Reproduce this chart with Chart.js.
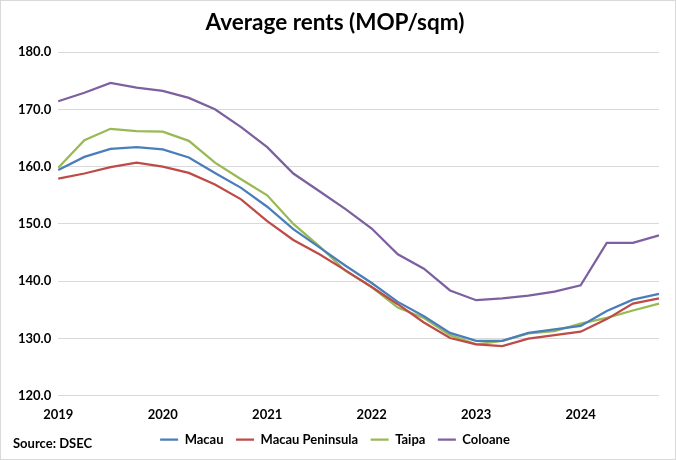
<!DOCTYPE html>
<html>
<head>
<meta charset="utf-8">
<script src="https://cdn.jsdelivr.net/npm/chart.js@4"></script>
<style>
  html, body { margin: 0; padding: 0; background: #fff; }
  #wrap { position: relative; width: 676px; height: 460px; box-sizing: border-box; border: 1px solid #d9d9d9; }
  #source { position: absolute; left: 12px; top: 434px; font: bold 13px Lato, sans-serif; color: #000; }
</style>
</head>
<body>
<div id="wrap">
  <canvas id="rentChart" width="674" height="458"></canvas>
  <div id="source">Source: DSEC</div>
</div>
<script>
// quarterly, 2019 Q1 .. 2024 Q4
const quarters = [
  '2019Q1', '2019Q2', '2019Q3', '2019Q4',
  '2020Q1', '2020Q2', '2020Q3', '2020Q4',
  '2021Q1', '2021Q2', '2021Q3', '2021Q4',
  '2022Q1', '2022Q2', '2022Q3', '2022Q4',
  '2023Q1', '2023Q2', '2023Q3', '2023Q4',
  '2024Q1', '2024Q2', '2024Q3', '2024Q4',
];
const macau = [159.4, 161.7, 163.1, 163.4, 163.0, 161.6, 158.9, 156.3, 153.0, 149.1, 145.9, 142.7,
  139.7, 136.4, 133.9, 131.0, 129.6, 129.6, 131.0, 131.6, 132.2, 134.8, 136.8, 137.8];
const macauPeninsula = [157.9, 158.8, 159.9, 160.7, 160.0, 158.9, 156.9, 154.3, 150.5, 147.2, 144.7, 141.9,
  139.0, 136.0, 132.8, 130.1, 129.0, 128.7, 130.0, 130.6, 131.2, 133.4, 136.1, 137.0];
const taipa = [159.8, 164.6, 166.6, 166.2, 166.1, 164.5, 160.7, 157.8, 155.0, 150.0, 146.1, 141.8,
  139.0, 135.4, 133.6, 130.6, 129.0, 129.6, 130.9, 131.3, 132.6, 133.6, 134.9, 136.1];
const coloane = [171.4, 172.9, 174.6, 173.8, 173.2, 172.0, 170.0, 166.9, 163.4, 158.8, 155.7, 152.6,
  149.2, 144.7, 142.2, 138.4, 136.7, 137.0, 137.5, 138.2, 139.3, 146.7, 146.7, 148.0];
const yTicks = [120, 130, 140, 150, 160, 170, 180];

const FONT = 'Lato, "Liberation Sans", sans-serif';

const series = [
  { label: 'Macau', data: macau, color: '#4A7EBB' },
  { label: 'Macau Peninsula', data: macauPeninsula, color: '#BE4B48' },
  { label: 'Taipa', data: taipa, color: '#98B954' },
  { label: 'Coloane', data: coloane, color: '#7D60A0' },
];

const ctx = document.getElementById('rentChart').getContext('2d');

new Chart(ctx, {
  type: 'line',
  data: {
    labels: quarters,
    datasets: series.map((s) => ({
      label: s.label,
      data: s.data,
      borderColor: s.color,
      backgroundColor: s.color,
      borderWidth: 2.25,
      pointRadius: 0,
      tension: 0,
    })),
  },
  options: {
    responsive: false,
    animation: false,
    layout: { padding: { left: 10, right: 16, top: 0, bottom: 3 } },
    plugins: {
      title: {
        display: true,
        text: 'Average rents (MOP/sqm)',
        color: '#000000',
        font: { family: FONT, size: 22.5, weight: 'bold' },
        padding: { top: 8, bottom: 16 },
      },
      legend: {
        position: 'bottom',
        labels: {
          usePointStyle: true,
          pointStyle: 'line',
          pointStyleWidth: 18,
          boxHeight: 10,
          padding: 12.5,
          color: '#000000',
          font: { family: FONT, size: 13, weight: 'bold' },
        },
      },
      tooltip: { enabled: false },
    },
    scales: {
      x: {
        offset: false,
        grid: { display: false },
        border: { display: false },
        // pull the year labels closer to the legend
        afterFit: (scale) => { scale.height -= 5; },
        ticks: {
          autoSkip: false,
          maxRotation: 0,
          color: '#000000',
          font: { family: FONT, size: 13, weight: 'bold' },
          callback: function (value, index) {
            const q = quarters[index];
            return q.endsWith('Q1') ? q.slice(0, 4) : '';
          },
        },
      },
      y: {
        min: yTicks[0],
        max: yTicks[yTicks.length - 1],
        grid: { color: '#d9d9d9', lineWidth: 1, drawTicks: false },
        border: { display: false },
        afterBuildTicks: (axis) => { axis.ticks = yTicks.map((v) => ({ value: v })); },
        ticks: {
          padding: 7,
          color: '#000000',
          font: { family: FONT, size: 13, weight: 'bold' },
          callback: (v) => Number(v).toFixed(1),
        },
      },
    },
  },
});
</script>
</body>
</html>
